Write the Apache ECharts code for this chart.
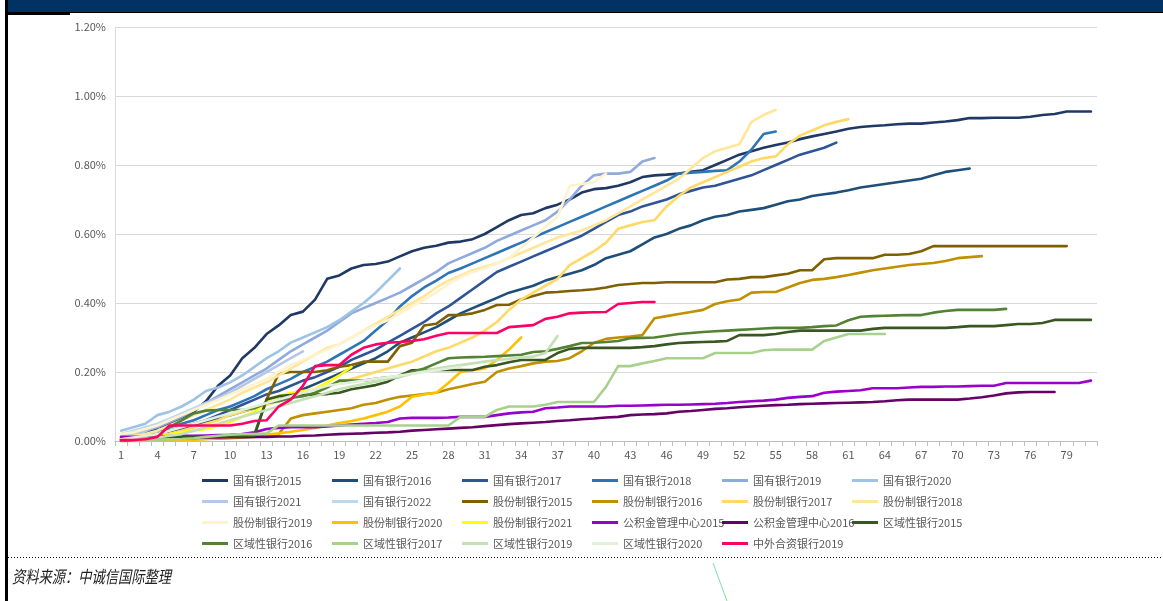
<!DOCTYPE html>
<html>
<head>
<meta charset="utf-8">
<script src="https://cdn.jsdelivr.net/npm/echarts@6/dist/echarts.min.js"></script>
<style>
  html, body { margin: 0; padding: 0; background: #fff; }
  #main { width: 1163px; height: 601px; }
</style>
</head>
<body>
<div id="main"></div>
<script>
// 月份 1..81
var months = [];
for (var m = 1; m <= 81; m++) months.push(String(m));

var yTicks = [0, 0.2, 0.4, 0.6, 0.8, 1.0, 1.2]; // 单位: %

// 累计违约率 (%)
var gy2015 = [0.01,0.015,0.02,0.038,0.05,0.065,0.085,0.115,0.16,0.19,
  0.24,0.27,0.31,0.335,0.365,0.375,0.41,0.47,0.48,0.50,
  0.51,0.513,0.52,0.535,0.55,0.56,0.566,0.575,0.578,0.585,
  0.60,0.62,0.64,0.655,0.66,0.675,0.685,0.70,0.72,0.73,
  0.733,0.74,0.75,0.765,0.77,0.772,0.775,0.78,0.785,0.80,
  0.815,0.83,0.84,0.85,0.858,0.865,0.875,0.883,0.89,0.897,
  0.905,0.91,0.913,0.915,0.918,0.92,0.92,0.923,0.926,0.93,
  0.936,0.936,0.937,0.937,0.937,0.94,0.945,0.948,0.955,0.955,0.955];
var gy2016 = [0.005,0.01,0.015,0.02,0.028,0.036,0.045,0.055,0.065,0.075,
  0.085,0.095,0.11,0.12,0.135,0.15,0.165,0.18,0.195,0.21,
  0.225,0.24,0.26,0.285,0.30,0.315,0.33,0.35,0.37,0.385,
  0.40,0.415,0.43,0.44,0.45,0.465,0.475,0.485,0.495,0.51,
  0.53,0.54,0.55,0.57,0.59,0.60,0.615,0.625,0.64,0.65,
  0.655,0.665,0.67,0.675,0.685,0.695,0.70,0.71,0.715,0.72,
  0.727,0.735,0.74,0.745,0.75,0.755,0.76,0.77,0.78,0.785,0.79];
var gy2017 = [0.005,0.01,0.015,0.02,0.03,0.04,0.05,0.06,0.075,0.09,
  0.105,0.12,0.135,0.145,0.16,0.175,0.185,0.20,0.215,0.235,
  0.25,0.265,0.285,0.305,0.325,0.345,0.37,0.39,0.415,0.44,
  0.465,0.49,0.505,0.52,0.535,0.55,0.565,0.58,0.595,0.615,
  0.635,0.655,0.665,0.68,0.69,0.70,0.715,0.725,0.735,0.74,
  0.75,0.76,0.77,0.785,0.80,0.815,0.83,0.84,0.85,0.865];
var gy2018 = [0.005,0.01,0.02,0.03,0.04,0.05,0.06,0.075,0.09,0.10,
  0.115,0.13,0.15,0.165,0.18,0.20,0.215,0.23,0.25,0.27,
  0.29,0.32,0.35,0.39,0.42,0.445,0.465,0.487,0.50,0.515,
  0.53,0.545,0.56,0.575,0.59,0.605,0.62,0.635,0.65,0.665,
  0.68,0.695,0.71,0.725,0.74,0.755,0.775,0.778,0.78,0.783,
  0.785,0.81,0.845,0.89,0.897];
var gy2019 = [0.01,0.02,0.03,0.04,0.055,0.07,0.09,0.11,0.13,0.15,
  0.17,0.19,0.21,0.235,0.26,0.28,0.30,0.32,0.345,0.37,
  0.385,0.40,0.415,0.43,0.45,0.47,0.49,0.515,0.53,0.545,
  0.56,0.58,0.595,0.61,0.625,0.64,0.665,0.70,0.74,0.77,
  0.775,0.775,0.78,0.81,0.82];
var gy2020 = [0.03,0.04,0.05,0.075,0.085,0.10,0.12,0.145,0.155,0.17,
  0.19,0.215,0.24,0.26,0.285,0.30,0.315,0.33,0.35,0.375,
  0.40,0.43,0.465,0.50];
var gy2021 = [0.01,0.02,0.03,0.045,0.06,0.075,0.09,0.11,0.125,0.14,
  0.16,0.18,0.20,0.22,0.24,0.26];
var gy2022 = [0.02,0.03,0.04,0.05,0.065,0.08,0.095,0.11];

var gf2015 = [0,0,0.002,0.004,0.006,0.008,0.01,0.01,0.012,0.014,
  0.016,0.02,0.12,0.195,0.20,0.20,0.20,0.205,0.215,0.22,
  0.23,0.23,0.23,0.275,0.285,0.335,0.34,0.365,0.365,0.37,
  0.38,0.394,0.395,0.41,0.42,0.43,0.432,0.435,0.437,0.44,
  0.445,0.452,0.455,0.458,0.458,0.46,0.46,0.46,0.46,0.46,
  0.468,0.47,0.475,0.475,0.48,0.485,0.495,0.495,0.527,0.53,
  0.53,0.53,0.53,0.54,0.54,0.542,0.55,0.565,0.565,0.565,
  0.565,0.565,0.565,0.565,0.565,0.565,0.565,0.565,0.565];
var gf2016 = [0,0,0,0.002,0.003,0.004,0.005,0.006,0.007,0.008,
  0.01,0.012,0.015,0.02,0.065,0.075,0.08,0.085,0.09,0.095,
  0.105,0.11,0.12,0.128,0.132,0.136,0.14,0.15,0.157,0.165,
  0.172,0.20,0.21,0.217,0.225,0.23,0.232,0.24,0.26,0.284,
  0.296,0.30,0.303,0.307,0.356,0.362,0.368,0.374,0.38,0.397,
  0.405,0.41,0.43,0.432,0.432,0.445,0.458,0.467,0.47,0.475,
  0.481,0.488,0.495,0.50,0.505,0.51,0.513,0.516,0.522,0.53,0.533,0.536];
var gf2017 = [0.005,0.008,0.01,0.015,0.02,0.03,0.04,0.05,0.06,0.075,
  0.085,0.095,0.105,0.115,0.13,0.14,0.15,0.16,0.17,0.18,
  0.19,0.20,0.21,0.22,0.23,0.245,0.26,0.27,0.285,0.30,
  0.32,0.345,0.38,0.41,0.43,0.45,0.47,0.51,0.53,0.55,
  0.575,0.615,0.625,0.635,0.64,0.68,0.71,0.735,0.75,0.765,
  0.78,0.795,0.81,0.82,0.825,0.86,0.885,0.90,0.915,0.925,0.933];
var gf2018 = [0.01,0.015,0.02,0.03,0.045,0.06,0.075,0.09,0.105,0.12,
  0.14,0.155,0.17,0.19,0.21,0.23,0.25,0.27,0.28,0.30,
  0.32,0.34,0.36,0.38,0.40,0.42,0.445,0.465,0.48,0.495,
  0.505,0.515,0.53,0.545,0.56,0.575,0.59,0.60,0.61,0.625,
  0.64,0.66,0.68,0.70,0.72,0.74,0.76,0.79,0.82,0.84,
  0.85,0.86,0.925,0.945,0.96];
var gf2019 = [0.02,0.025,0.035,0.045,0.06,0.075,0.09,0.105,0.12,0.135,
  0.15,0.165,0.18,0.20,0.22,0.235,0.25,0.265,0.28,0.30,
  0.32,0.335,0.35,0.37,0.39,0.41,0.43,0.455,0.475,0.49,
  0.50,0.515,0.53,0.56,0.59,0.62,0.65,0.74,0.745,0.75,0.775];
var gf2020 = [0,0,0,0.001,0.002,0.003,0.004,0.006,0.008,0.01,
  0.012,0.015,0.018,0.022,0.027,0.032,0.038,0.045,0.052,0.058,
  0.065,0.075,0.085,0.10,0.128,0.135,0.14,0.168,0.20,0.205,
  0.21,0.235,0.265,0.30];
var gf2021 = [0.01,0.01,0.012,0.015,0.02,0.025,0.03,0.035,0.045,0.055,
  0.07,0.085,0.11,0.13,0.14,0.145,0.15,0.17,0.19,0.215];

var gjj2015 = [0.012,0.012,0.012,0.013,0.014,0.015,0.015,0.016,0.017,0.018,
  0.02,0.025,0.035,0.038,0.04,0.04,0.04,0.042,0.045,0.048,
  0.05,0.052,0.055,0.065,0.067,0.067,0.067,0.068,0.07,0.07,
  0.07,0.075,0.08,0.083,0.085,0.095,0.097,0.1,0.1,0.1,
  0.1,0.102,0.102,0.103,0.104,0.105,0.105,0.106,0.107,0.108,
  0.11,0.113,0.115,0.117,0.12,0.125,0.128,0.13,0.14,0.143,
  0.145,0.147,0.153,0.153,0.153,0.155,0.157,0.157,0.158,0.158,
  0.159,0.16,0.16,0.168,0.168,0.168,0.168,0.168,0.168,0.168,0.175];
var gjj2016 = [0.003,0.004,0.005,0.006,0.007,0.008,0.009,0.01,0.01,0.011,
  0.011,0.012,0.012,0.013,0.013,0.015,0.016,0.018,0.02,0.021,
  0.022,0.024,0.025,0.027,0.03,0.032,0.034,0.036,0.038,0.04,
  0.043,0.046,0.049,0.051,0.053,0.055,0.058,0.06,0.063,0.065,
  0.068,0.07,0.075,0.077,0.078,0.08,0.085,0.087,0.09,0.093,
  0.095,0.098,0.10,0.102,0.104,0.105,0.107,0.108,0.109,0.11,
  0.111,0.112,0.113,0.115,0.118,0.12,0.12,0.12,0.12,0.12,
  0.123,0.127,0.132,0.138,0.141,0.142,0.142,0.142];

var qy2015 = [0,0.003,0.005,0.008,0.01,0.011,0.012,0.012,0.013,0.014,
  0.014,0.015,0.12,0.13,0.133,0.133,0.135,0.136,0.14,0.15,
  0.156,0.162,0.172,0.19,0.205,0.206,0.206,0.206,0.206,0.206,
  0.215,0.22,0.228,0.235,0.235,0.235,0.255,0.267,0.27,0.27,
  0.27,0.27,0.27,0.272,0.275,0.28,0.284,0.286,0.287,0.288,
  0.29,0.307,0.307,0.307,0.31,0.316,0.32,0.32,0.32,0.32,
  0.32,0.32,0.325,0.328,0.328,0.328,0.328,0.328,0.328,0.33,
  0.333,0.333,0.333,0.336,0.339,0.339,0.342,0.351,0.351,0.351,0.351];
var qy2016 = [0.003,0.006,0.009,0.012,0.04,0.06,0.08,0.088,0.09,0.09,
  0.09,0.095,0.11,0.115,0.125,0.13,0.14,0.155,0.175,0.175,
  0.175,0.18,0.185,0.186,0.20,0.21,0.225,0.24,0.242,0.243,
  0.244,0.246,0.248,0.25,0.258,0.26,0.267,0.275,0.284,0.285,
  0.287,0.29,0.298,0.299,0.30,0.305,0.31,0.313,0.316,0.318,
  0.32,0.322,0.324,0.326,0.328,0.328,0.328,0.33,0.333,0.335,
  0.35,0.36,0.362,0.363,0.364,0.365,0.365,0.372,0.377,0.38,
  0.38,0.38,0.38,0.383];
var qy2017 = [0.003,0.003,0.003,0.004,0.005,0.006,0.008,0.012,0.015,0.018,
  0.02,0.02,0.022,0.045,0.045,0.045,0.045,0.045,0.045,0.045,
  0.045,0.045,0.045,0.045,0.045,0.045,0.045,0.045,0.07,0.07,
  0.07,0.09,0.10,0.10,0.10,0.105,0.113,0.113,0.113,0.113,
  0.157,0.217,0.217,0.225,0.232,0.24,0.24,0.24,0.24,0.255,
  0.255,0.255,0.255,0.263,0.265,0.265,0.265,0.265,0.29,0.30,
  0.31,0.31,0.31,0.31];
var qy2019 = [0.003,0.005,0.007,0.01,0.015,0.02,0.03,0.04,0.05,0.06,
  0.07,0.08,0.09,0.10,0.11,0.12,0.13,0.14,0.15,0.158,
  0.165,0.172,0.18,0.186,0.195,0.202,0.21,0.215,0.22,0.225,
  0.23,0.235,0.238,0.242,0.245,0.255,0.304];
var qy2020 = [0.005,0.01,0.015,0.02,0.03,0.04,0.05,0.06,0.07,0.08,
  0.09,0.10,0.11,0.12,0.13,0.14,0.15,0.16,0.165,0.17,
  0.175,0.18,0.185,0.19,0.195,0.20,0.205,0.21,0.215];

var zw2019 = [0.003,0.003,0.005,0.012,0.045,0.045,0.045,0.045,0.045,0.045,
  0.05,0.058,0.06,0.10,0.12,0.16,0.217,0.22,0.22,0.25,
  0.27,0.28,0.285,0.287,0.29,0.295,0.305,0.313,0.313,0.313,
  0.313,0.313,0.33,0.333,0.336,0.354,0.36,0.37,0.372,0.373,
  0.374,0.397,0.40,0.403,0.403];

var seriesNames = ['国有银行2015','国有银行2016','国有银行2017','国有银行2018','国有银行2019','国有银行2020',
  '国有银行2021','国有银行2022','股份制银行2015','股份制银行2016','股份制银行2017','股份制银行2018',
  '股份制银行2019','股份制银行2020','股份制银行2021','公积金管理中心2015','公积金管理中心2016','区域性银行2015',
  '区域性银行2016','区域性银行2017','区域性银行2019','区域性银行2020','中外合资银行2019'];
var seriesData = [gy2015, gy2016, gy2017, gy2018, gy2019, gy2020, gy2021, gy2022,
  gf2015, gf2016, gf2017, gf2018, gf2019, gf2020, gf2021,
  gjj2015, gjj2016, qy2015, qy2016, qy2017, qy2019, qy2020, zw2019];
var seriesColors = ['#203864','#1f4e79','#2f5597','#2e75b6','#8faadc','#9dc3e6',
  '#b4c7e7','#bdd7ee','#7f6000','#bf9000','#ffd966','#ffe699',
  '#fff2cc','#ffc000','#ffff00','#9900cc','#660066','#385723',
  '#548235','#a9d18e','#c5e0b4','#e2f0d9','#ff0066'];

var myChart = echarts.init(document.getElementById('main'));

var series = seriesNames.map(function (name, i) {
  return {
    name: name,
    type: 'line',
    data: seriesData[i],
    showSymbol: false,
    symbol: 'none',
    lineStyle: { width: 2.6, color: seriesColors[i], cap: 'round', join: 'round' },
    itemStyle: { color: seriesColors[i] },
    emphasis: { disabled: true },
    z: 2
  };
});

// 图例: 6 列, 按行填充
var colX = [202, 332, 462, 592, 722, 852];
var legends = colX.map(function (x, k) {
  var names = [];
  for (var j = k; j < seriesNames.length; j += 6) names.push(seriesNames[j]);
  return {
    orient: 'vertical',
    left: x,
    top: 470,
    padding: 0,
    icon: 'rect',
    itemWidth: 26,
    itemHeight: 3,
    itemGap: 0,
    selectedMode: false,
    textStyle: { color: '#595959', fontSize: 11, lineHeight: 21,
      fontFamily: 'Noto Sans CJK SC' },
    data: names
  };
});

var option = {
  animation: false,
  backgroundColor: '#ffffff',
  textStyle: { fontFamily: 'Noto Sans CJK SC' },
  grid: { left: 115, right: 66, top: 27, bottom: 160, containLabel: false },
  legend: legends,
  xAxis: {
    type: 'category',
    data: months,
    boundaryGap: true,
    axisLine: { lineStyle: { color: '#bfbfbf', width: 1 } },
    axisTick: { show: true, interval: 0, length: 5, lineStyle: { color: '#bfbfbf' } },
    axisLabel: { interval: 2, color: '#595959', fontSize: 11, margin: 8 },
    splitLine: { show: false }
  },
  yAxis: {
    type: 'value',
    min: 0,
    max: 1.2,
    interval: 0.2,
    axisLine: { show: true, lineStyle: { color: '#d9d9d9', width: 1 } },
    axisTick: { show: false },
    axisLabel: {
      color: '#595959', fontSize: 11, margin: 9,
      formatter: function (v) { return v.toFixed(2) + '%'; }
    },
    splitLine: { lineStyle: { color: '#d9d9d9', width: 1 } }
  },
  graphic: [
    { type: 'rect', left: 5, top: 0, shape: { width: 1158, height: 12 },
      style: { fill: '#003264' }, silent: true },
    { type: 'rect', left: 5, top: 12, shape: { width: 1158, height: 1 },
      style: { fill: '#000' }, silent: true },
    { type: 'rect', left: 5, top: 13, shape: { width: 65, height: 2 },
      style: { fill: '#000' }, silent: true },
    { type: 'rect', left: 5, top: 0, shape: { width: 3, height: 601 },
      style: { fill: '#000' }, silent: true },
    { type: 'line', shape: { x1: 8, y1: 557.5, x2: 1163, y2: 557.5 },
      style: { stroke: '#000', lineWidth: 1, lineDash: [1, 2] }, silent: true },
    { type: 'line', shape: { x1: 713, y1: 563, x2: 727, y2: 601 },
      style: { stroke: '#7fe0a0', lineWidth: 1 }, silent: true },
    { type: 'text', left: 12, top: 568,
      style: { text: '资料来源：中诚信国际整理', fill: '#222', fontSize: 17,
        fontStyle: 'italic', fontFamily: 'Noto Sans CJK SC' },
      scaleX: 0.78, silent: true }
  ],
  series: series
};

myChart.setOption(option);
</script>
</body>
</html>
